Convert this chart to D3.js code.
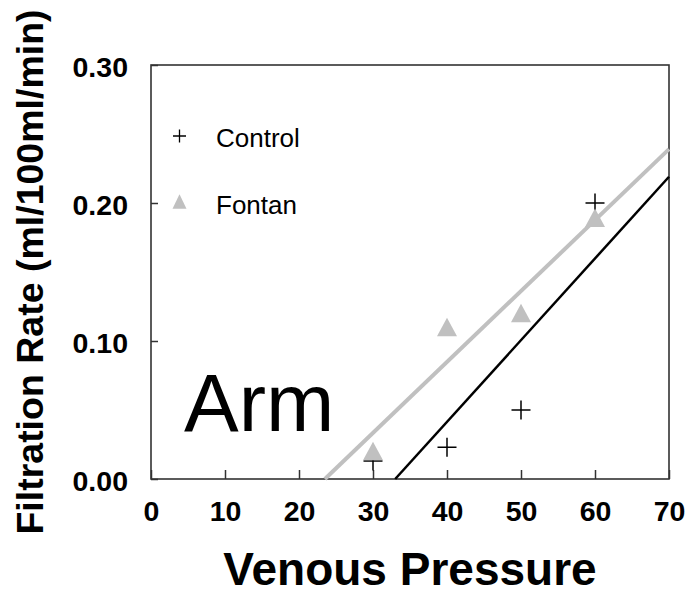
<!DOCTYPE html>
<html>
<head>
<meta charset="utf-8">
<script src="https://cdn.jsdelivr.net/npm/d3@7"></script>
<style>
  body { margin: 0; background: #fff; }
  svg { display: block; font-family: Arial, "Liberation Sans", sans-serif; }
</style>
</head>
<body>
<div id="chart"></div>
<script>
// values
const pressures = [30, 40, 50, 60];
const controlRate = [0.013, 0.023, 0.05, 0.20];
const fontanRate = [0.018, 0.108, 0.118, 0.187];
// fitted lines, endpoints as drawn in the picture
const controlFit = [[33.0, 0], [70, 0.219]];
const fontanFit = [[23.5, 0], [70, 0.239]];
const xTicks = [0, 10, 20, 30, 40, 50, 60, 70];
const yTicks = [0, 0.1, 0.2, 0.3];
const seriesNames = ["Control", "Fontan"];

const width = 690, height = 597;
const margin = {top: 65, right: 21, bottom: 118, left: 151};
const grey = "#c0c0c0";

const svg = d3.select("#chart").append("svg")
    .attr("width", width)
    .attr("height", height);

const x = d3.scaleLinear().domain([0, 70]).range([margin.left, width - margin.right]);
const y = d3.scaleLinear().domain([0, 0.3]).range([height - margin.bottom, margin.top]);

// ticks point inwards
const xAxis = svg.append("g")
    .attr("transform", `translate(0,${y(0)})`)
    .call(d3.axisBottom(x).tickValues(xTicks).tickSize(-9).tickPadding(22)
      .tickFormat(d3.format("d")));
const yAxis = svg.append("g")
    .attr("transform", `translate(${x(0)},0)`)
    .call(d3.axisLeft(y).tickValues(yTicks).tickSize(-7).tickPadding(23)
      .tickFormat(d3.format(".2f")));

[xAxis, yAxis].forEach(g => {
  g.select(".domain").remove();
  g.selectAll(".tick line").attr("stroke", "#333").attr("stroke-width", 1.5);
  g.selectAll(".tick text")
      .attr("fill", "#000")
      .style("font-size", "28.5px")
      .style("font-weight", "bold");
});
xAxis.selectAll(".tick text").attr("dy", "0.71em");
yAxis.selectAll(".tick text").attr("dy", "0.4em");

// frame
svg.append("rect")
    .attr("x", x(0))
    .attr("y", y(0.3))
    .attr("width", x(70) - x(0))
    .attr("height", y(0) - y(0.3))
    .attr("fill", "none")
    .attr("stroke", "#333")
    .attr("stroke-width", 1.6);

const line = d3.line().x(d => x(d[0])).y(d => y(d[1]));

svg.append("path")
    .attr("d", line(fontanFit))
    .attr("stroke", grey)
    .attr("stroke-width", 4)
    .attr("fill", "none");

svg.append("path")
    .attr("d", line(controlFit))
    .attr("stroke", "#000")
    .attr("stroke-width", 2.5)
    .attr("fill", "none");

function plus(size) {
  const h = size / 2;
  return `M${-h},0H${h}M0,${-h}V${h}`;
}
function triangle(w, ht) {
  // centred on the centroid
  return `M0,${-ht * 2 / 3}L${w / 2},${ht / 3}L${-w / 2},${ht / 3}Z`;
}

svg.append("g")
  .selectAll("path")
  .data(pressures.map((p, i) => [p, controlRate[i]]))
  .enter().append("path")
    .attr("transform", d => `translate(${x(d[0])},${y(d[1])})`)
    .attr("d", plus(19))
    .attr("stroke", "#000")
    .attr("stroke-width", 1.5)
    .attr("fill", "none");

svg.append("g")
  .selectAll("path")
  .data(pressures.map((p, i) => [p, fontanRate[i]]))
  .enter().append("path")
    .attr("transform", d => `translate(${x(d[0])},${y(d[1])})`)
    .attr("d", triangle(20, 18.5))
    .attr("fill", grey);

// legend
const legend = svg.append("g");
legend.append("path")
    .attr("transform", "translate(179.5,136)")
    .attr("d", plus(13))
    .attr("stroke", "#000")
    .attr("stroke-width", 1.3);
legend.append("path")
    .attr("transform", "translate(179.5,204)")
    .attr("d", triangle(14, 14.5))
    .attr("fill", grey);
legend.selectAll("text")
  .data(seriesNames)
  .enter().append("text")
    .attr("x", 216)
    .attr("y", (d, i) => 146.5 + i * 67)
    .style("font-size", "26px")
    .text(d => d);

svg.append("text")
    .attr("x", 184)
    .attr("y", 430.5)
    .style("font-size", "82px")
    .text("Arm");

svg.append("text")
    .attr("x", (x(0) + x(70)) / 2)
    .attr("y", 585)
    .attr("text-anchor", "middle")
    .style("font-size", "46px")
    .style("font-weight", "bold")
    .text("Venous Pressure");

svg.append("text")
    .attr("transform", `translate(43,${(y(0) + y(0.3)) / 2}) rotate(-90)`)
    .attr("text-anchor", "middle")
    .style("font-size", "37.5px")
    .style("font-weight", "bold")
    .text("Filtration Rate (ml/100ml/min)");
</script>
</body>
</html>
